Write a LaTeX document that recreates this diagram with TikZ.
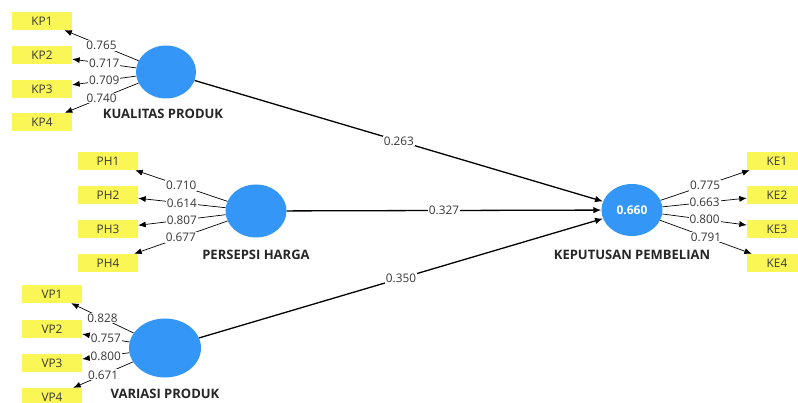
\documentclass[tikz,border=0pt]{standalone}
\usepackage{fontspec}
\setmainfont{Open Sans}
\usetikzlibrary{arrows.meta,shapes.geometric}
\definecolor{indyellow}{RGB}{250,246,85}
\definecolor{lvblue}{RGB}{52,150,246}
\definecolor{txtgray}{RGB}{55,55,55}

\begin{document}
\begin{tikzpicture}[x=1pt,y=-1pt,
    ind/.style={fill=indyellow,minimum width=60pt,minimum height=18pt,inner sep=0pt,
      text=txtgray,font=\fontsize{11.8}{13}\selectfont},
    lv/.style={ellipse,fill=lvblue,inner sep=0pt},
    lvname/.style={font=\fontsize{13}{15}\selectfont\bfseries,text=black!85},
    load/.style={draw=black!65,line width=0.7pt,-{Latex[length=7.5pt,width=6pt]},black},
    inner/.style={draw=black,line width=1.3pt,-{Latex[length=8pt,width=6.5pt]}},
    coef/.style={fill=white,inner sep=1pt,text=txtgray,font=\fontsize{11.8}{13}\selectfont}]
      \useasboundingbox (0,0) rectangle (798,403) ;
      % latent variables
      \node[lv,minimum width=60pt,minimum height=53pt] (KP) at (166,72) {} ;
      \node[lv,minimum width=61pt,minimum height=53pt] (PH) at (256,211) {} ;
      \node[lv,minimum width=72pt,minimum height=59pt] (VP) at (165,348) {} ;
      \node[lv,minimum width=61pt,minimum height=52pt,text=white,
        font=\fontsize{12}{14}\selectfont\bfseries] (KE) at (632,210) {0.660} ;
      \node[lvname] (KPname) at (163,114) {KUALITAS PRODUK} ;
      \node[lvname] (PHname) at (256,255) {PERSEPSI HARGA} ;
      \node[lvname] (VPname) at (165,394) {VARIASI PRODUK} ;
      \node[lvname] (KEname) at (632,255) {KEPUTUSAN PEMBELIAN} ;
      % indicators
      \foreach \i/\y/\v in {1/21/0.765,2/55/0.717,3/89/0.709,4/122/0.740}{
        \node[ind] (KP\i) at (42,\y) {KP\i} ;
        \draw[load] (KP) -- (KP\i) node[coef,pos=0.5] {\v} ;
      }
      \foreach \i/\y/\v in {1/161/0.710,2/195/0.614,3/229/0.807,4/263/0.677}{
        \node[ind] (PH\i) at (108,\y) {PH\i} ;
        \draw[load] (PH) -- (PH\i) node[coef,pos=0.5] {\v} ;
      }
      \foreach \i/\y/\v in {1/294/0.828,2/329/0.757,3/363/0.800,4/397/0.671}{
        \node[ind] (VP\i) at (52,\y) {VP\i} ;
        \draw[load] (VP) -- (VP\i) node[coef,pos=0.5] {\v} ;
      }
      \foreach \i/\y/\v in {1/161/0.775,2/195/0.663,3/229/0.800,4/263/0.791}{
        \node[ind] (KE\i) at (777,\y) {KE\i} ;
        \draw[load] (KE) -- (KE\i) node[coef,pos=0.5] {\v} ;
      }
      % structural paths
      \draw[inner] (KP) -- (KE) node[coef,pos=0.5] {0.263} ;
      \draw[inner] (PH) -- (KE) node[coef,pos=0.5] {0.327} ;
      \draw[inner] (VP) -- (KE) node[coef,pos=0.5] {0.350} ;
    \end{tikzpicture}
\end{document}
